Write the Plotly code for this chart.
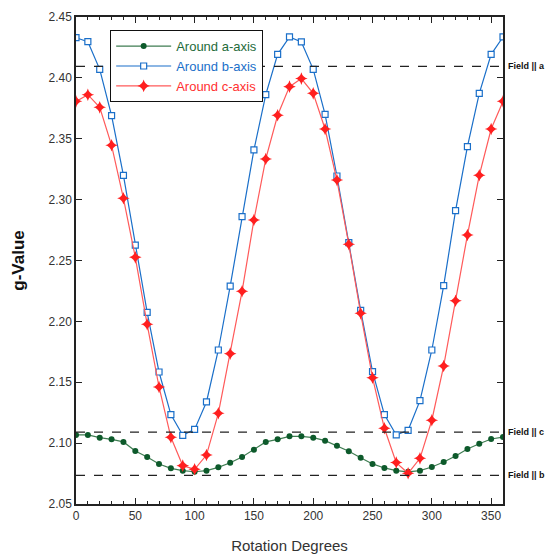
import plotly.graph_objects as go

angles = list(range(0, 361, 10))

g_a = [2.1067, 2.1067, 2.1045, 2.1031, 2.1010, 2.0935, 2.0886, 2.0829, 2.0793, 2.0774,
       2.0765, 2.0774, 2.0801, 2.0839, 2.0886, 2.0946, 2.1010, 2.1031, 2.1056, 2.1056,
       2.1045, 2.1020, 2.0979, 2.0933, 2.0880, 2.0829, 2.0796, 2.0774, 2.0764, 2.0774,
       2.0804, 2.0845, 2.0894, 2.0952, 2.0995, 2.1034, 2.1050]

g_b = [2.4330, 2.4297, 2.4070, 2.3690, 2.3200, 2.2627, 2.2074, 2.1584, 2.1234, 2.1064,
       2.1113, 2.1338, 2.1765, 2.2290, 2.2860, 2.3408, 2.3862, 2.4193, 2.4336, 2.4295,
       2.4070, 2.3700, 2.3194, 2.2646, 2.2090, 2.1587, 2.1234, 2.1067, 2.1105, 2.1349,
       2.1765, 2.2293, 2.2909, 2.3435, 2.3873, 2.4193, 2.4336]

g_c = [2.3807, 2.3862, 2.3758, 2.3446, 2.3011, 2.2526, 2.1976, 2.1461, 2.1048, 2.0815,
       2.0785, 2.0902, 2.1245, 2.1735, 2.2247, 2.2833, 2.3334, 2.3693, 2.3928, 2.3994,
       2.3873, 2.3580, 2.3161, 2.2633, 2.2066, 2.1537, 2.1122, 2.0840, 2.0752, 2.0875,
       2.1188, 2.1634, 2.2170, 2.2709, 2.3200, 2.3580, 2.3807]

field_labels = ["Field || a", "Field || c", "Field || b"]
field_values = [2.4095, 2.109, 2.0735]

x_ticks = list(range(0, 351, 50))
y_ticks = [2.05, 2.10, 2.15, 2.20, 2.25, 2.30, 2.35, 2.40, 2.45]

font_family = "Liberation Sans, Arial, sans-serif"

fig = go.Figure()

fig.add_trace(go.Scatter(
    x=angles, y=g_a, mode="lines+markers",
    name="<span style='color:#1e6b3a'>Around a-axis</span>",
    line=dict(color="#3f7d52", width=1.2),
    marker=dict(symbol="circle", size=6, color="#0d5a2b"),
))
fig.add_trace(go.Scatter(
    x=angles, y=g_b, mode="lines+markers",
    name="<span style='color:#1a6fc9'>Around b-axis</span>",
    line=dict(color="#1a6fc9", width=1.2),
    marker=dict(symbol="square", size=6, color="white", line=dict(width=1.2, color="#1a6fc9")),
))
fig.add_trace(go.Scatter(
    x=angles, y=g_c, mode="lines+markers",
    name="<span style='color:#ff3030'>Around c-axis</span>",
    line=dict(color="#ff5a5a", width=1.2),
    marker=dict(symbol="star-diamond", size=9, color="#ff1f1f"),
))

for lbl, val in zip(field_labels, field_values):
    fig.add_shape(type="line", xref="paper", x0=0, x1=1, yref="y", y0=val, y1=val,
                  line=dict(color="#222222", width=1.2, dash="dash"))
    fig.add_annotation(text=lbl, xref="paper", x=1.0, xshift=3, yref="y", y=val,
                       xanchor="left", yanchor="middle", showarrow=False,
                       font=dict(family=font_family, size=9, color="#111111", weight="bold"))

fig.update_layout(
    width=549, height=554,
    margin=dict(l=76, r=46, t=17, b=50, autoexpand=False),
    paper_bgcolor="white", plot_bgcolor="white",
    font=dict(family=font_family, size=12, color="#333333"),
    showlegend=True,
    legend=dict(x=0.08, y=0.973, xanchor="left", yanchor="top",
                bgcolor="white", bordercolor="#111111", borderwidth=1,
                font=dict(size=13), itemwidth=55, tracegroupgap=0),
    xaxis=dict(range=[0, 360], tickvals=x_ticks, ticks="inside", ticklen=6,
               tickcolor="#222", linecolor="#222", linewidth=1.5, mirror="ticks",
               showgrid=False, zeroline=False, automargin=False,
               minor=dict(dtick=10, ticks="inside", ticklen=3, tickcolor="#222"),
               title=dict(text="Rotation Degrees", font=dict(size=15, color="#333"), standoff=18),
               tickfont=dict(size=12, color="#333")),
    yaxis=dict(range=[2.05, 2.45], tickvals=y_ticks, tickformat=".2f",
               ticks="inside", ticklen=6, tickcolor="#222", linecolor="#222", linewidth=1.5,
               mirror="ticks", showgrid=False, zeroline=False, automargin=False,
               title=dict(text="<b>g-Value</b>", font=dict(size=17, color="#111"), standoff=20),
               tickfont=dict(size=12, color="#333")),
)

fig.write_html("out.html", config={"displayModeBar": False},
               post_script="document.body.style.margin='0';")
